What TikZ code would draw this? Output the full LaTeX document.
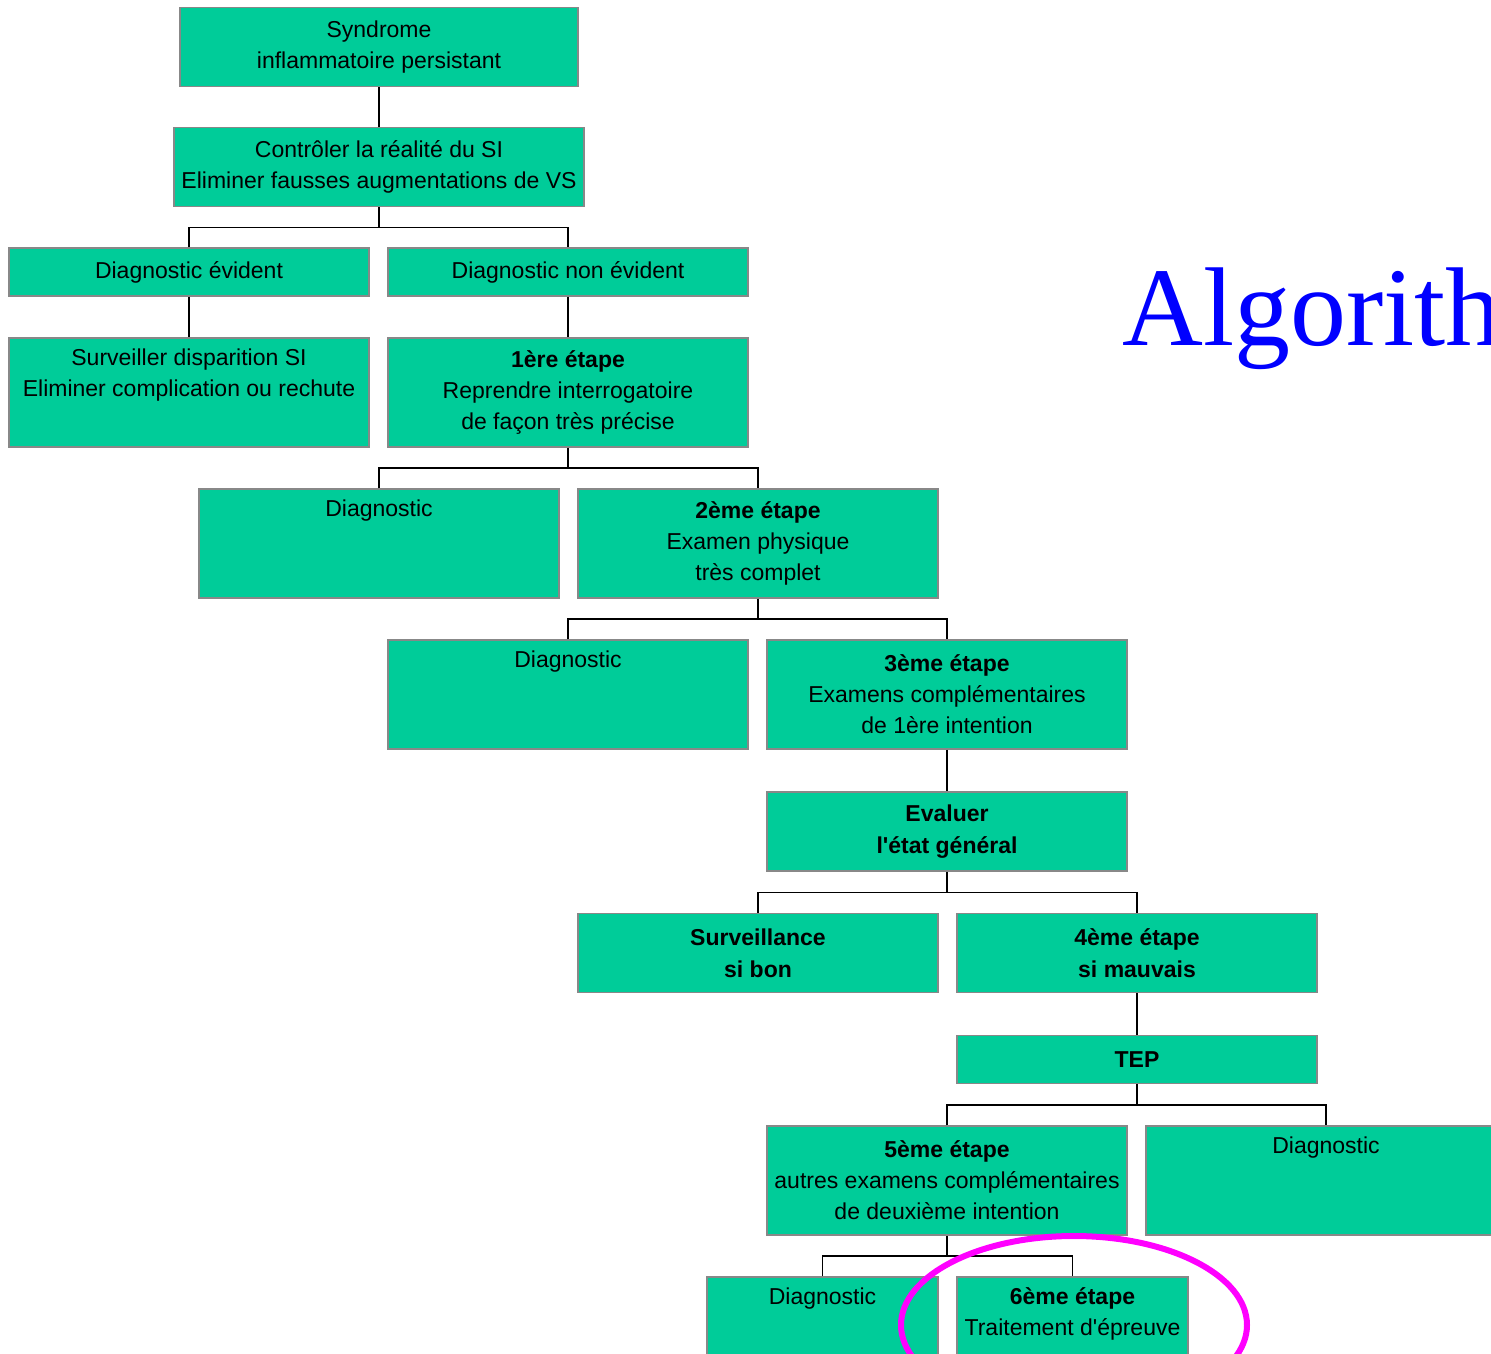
\documentclass[tikz,border=0pt]{standalone}
\usepackage{fontspec}
\setmainfont{Liberation Sans}
\newfontfamily\titlefont{Liberation Serif}
\usetikzlibrary{positioning,calc}
\definecolor{BoxGreen}{RGB}{0,204,153}
\definecolor{BoxEdge}{RGB}{136,136,136}
\definecolor{RingMagenta}{RGB}{255,0,255}
\definecolor{TitleBlue}{RGB}{0,0,255}
\tikzset{
  stepbox/.style={draw=BoxEdge,fill=BoxGreen,line width=1.5pt,minimum width=360pt,inner sep=0pt,align=center,font=\fontsize{23}{31}\selectfont},
  shortbox/.style={stepbox,minimum height=48pt},
  midbox/.style={stepbox,minimum height=79pt},
  tallbox/.style={stepbox,minimum height=109pt},
  link/.style={draw=black,line width=1.5pt},
}

\begin{document}
\begin{tikzpicture}[x=1pt,y=-1pt]
  \useasboundingbox (0,0) rectangle (1491,1353);
  % boxes
  \node[midbox,minimum width=398pt] (synd) at (379,47) {Syndrome\\inflammatoire persistant};
  \node[midbox,minimum width=410pt] (ctrl) at (379,167) {Contrôler la réalité du SI\\Eliminer fausses augmentations de VS};
  \node[shortbox] (evid) at (189,272) {Diagnostic évident};
  \node[shortbox] (nonevid) at (568,272) {Diagnostic non évident};
  \node[tallbox] (watch) at (189,392.5) {Surveiller disparition SI\\Eliminer complication ou rechute\\\strut};
  \node[tallbox] (step1) at (568,392.5) {\textbf{1ère étape}\\Reprendre interrogatoire\\de façon très précise};
  \node[tallbox] (diagA) at (379,543.5) {Diagnostic\\\strut\\\strut};
  \node[tallbox] (step2) at (758,543.5) {\textbf{2ème étape}\\Examen physique\\très complet};
  \node[tallbox] (diagB) at (568,694.5) {Diagnostic\\\strut\\\strut};
  \node[tallbox] (step3) at (947,694.5) {\textbf{3ème étape}\\Examens complémentaires\\de 1ère intention};
  \node[midbox,font=\fontsize{23}{32}\selectfont\bfseries] (evalu) at (947,831.5) {Evaluer\\l\textquotesingle état général};
  \node[midbox,font=\fontsize{23}{32}\selectfont\bfseries] (surv) at (758,953) {Surveillance\\si bon};
  \node[midbox,font=\fontsize{23}{32}\selectfont\bfseries] (step4) at (1137,953) {4ème étape\\si mauvais};
  \node[shortbox,font=\fontsize{23}{31}\selectfont\bfseries] (tep) at (1137,1059.5) {TEP};
  \node[tallbox] (step5) at (947,1180.5) {\textbf{5ème étape}\\autres examens complémentaires\\de deuxième intention};
  \node[tallbox] (diagC) at (1326,1180.5) {Diagnostic\\\strut\\\strut};
  \node[tallbox,minimum width=231pt] (diagD) at (822.5,1331.5) {Diagnostic\\\strut\\\strut};
  \node[tallbox,minimum width=231pt] (step6) at (1072.5,1331.5) {\textbf{6ème étape}\\Traitement d\textquotesingle épreuve\\\strut};
  % title
  \node[anchor=base west,inner sep=0pt,text=TitleBlue,font=\titlefont\fontsize{112}{120}\selectfont] (title) at (1122,345) {Algorith};
  % straight links
  \draw[link] (synd) -- (ctrl);
  \draw[link] (evid) -- (watch);
  \draw[link] (nonevid) -- (step1);
  \draw[link] (step3) -- (evalu);
  \draw[link] (step4) -- (tep);
  % forks
  \coordinate (f1) at ($(ctrl.south)!.5!(evid.north)$);
  \draw[link] (ctrl.south) -- (ctrl.south |- f1);
  \draw[link] (evid.north) |- (f1) -| (nonevid.north);
  \coordinate (f2) at ($(step1.south)!.5!(diagA.north)$);
  \draw[link] (step1.south) -- (step1.south |- f2);
  \draw[link] (diagA.north) |- (f2) -| (step2.north);
  \coordinate (f3) at ($(step2.south)!.5!(diagB.north)$);
  \draw[link] (step2.south) -- (step2.south |- f3);
  \draw[link] (diagB.north) |- (f3) -| (step3.north);
  \coordinate (f4) at ($(evalu.south)!.5!(surv.north)$);
  \draw[link] (evalu.south) -- (evalu.south |- f4);
  \draw[link] (surv.north) |- (f4) -| (step4.north);
  \coordinate (f5) at ($(tep.south)!.5!(step5.north)$);
  \draw[link] (tep.south) -- (tep.south |- f5);
  \draw[link] (step5.north) |- (f5) -| (diagC.north);
  \coordinate (f6) at ($(step5.south)!.5!(diagD.north)$);
  \draw[link] (step5.south) -- (step5.south |- f6);
  \draw[link] (diagD.north) |- (f6) -| (step6.north);
  % ring
  \draw[RingMagenta,line width=6pt] ($(step6.center)+(1.5,-6.5)$) ellipse [x radius=173, y radius=89];
\end{tikzpicture}
\end{document}
